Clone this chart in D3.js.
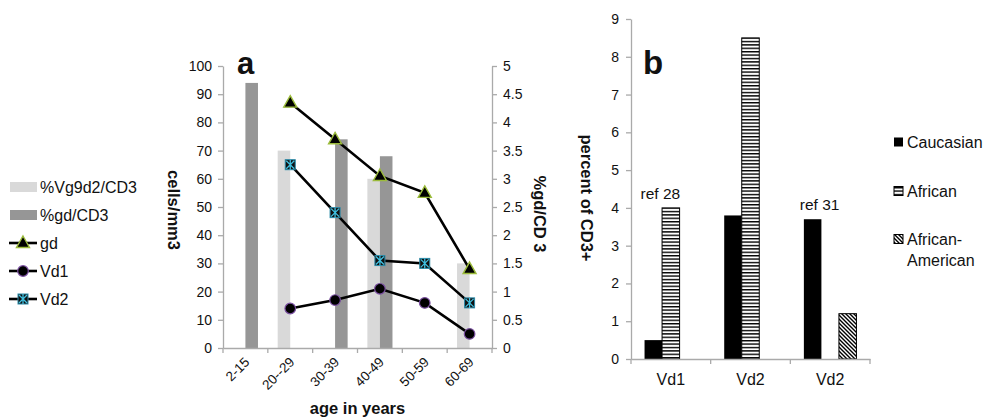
<!DOCTYPE html>
<html><head><meta charset="utf-8">
<script src="https://cdn.jsdelivr.net/npm/d3@7"></script>
<style>
html,body{margin:0;padding:0;background:#fff;}
svg text{font-family:"Liberation Sans",Arial,Helvetica,sans-serif;fill:#111;}
</style></head>
<body>
<script>
// ---- Panel a data ----
const ageGroups = ["2-15","20--29","30-39","40-49","50-59","60-69"];
const pctVg9d2CD3 = [null, 3.5, null, 3.0, null, 1.5];
const pctGdCD3 = [4.7, null, 3.7, 3.4, null, null];
const gdCells = [null, 87, 74, 61, 55, 28];
const vd1Cells = [null, 14, 17, 21, 16, 5];
const vd2Cells = [null, 65, 48, 31, 30, 16];
const leftTicksA = [0,10,20,30,40,50,60,70,80,90,100];
const rightTicksA = [0,0.5,1,1.5,2,2.5,3,3.5,4,4.5,5];

// ---- Panel b data ----
const subsets = ["Vd1","Vd2","Vd2"];
const caucasian = [0.5, 3.8, 3.7];
const african = [4.0, 8.5, null];
const africanAmerican = [null, null, 1.2];
const refLabels = ["ref 28", null, "ref 31"];
const ticksB = [0,1,2,3,4,5,6,7,8,9];

const W = 985, H = 418;
const svg = d3.select("body").append("svg").attr("width", W).attr("height", H);
const axisColor = "#aaa";
const fmt = d => String(d);

// patterns
const defs = svg.append("defs");
const ph = defs.append("pattern").attr("id","hstripe").attr("patternUnits","userSpaceOnUse")
  .attr("width",4).attr("height",3.4);
ph.append("rect").attr("width",4).attr("height",3.4).attr("fill","#fff");
ph.append("rect").attr("y",0).attr("width",4).attr("height",1.4).attr("fill","#000");
const pd = defs.append("pattern").attr("id","dstripe").attr("patternUnits","userSpaceOnUse")
  .attr("width",4).attr("height",4);
pd.append("rect").attr("width",4).attr("height",4).attr("fill","#fff");
pd.append("path").attr("d","M0,0L4,4M-1,3L1,5M3,-1L5,1").attr("stroke","#000").attr("stroke-width",1.4);

// ================= Panel a =================
const ax0 = 223, ax1 = 492, ay0 = 348, ay1 = 66;
const xA = d3.scaleBand().domain(ageGroups).range([ax0, ax1]).paddingInner(0).paddingOuter(0);
const yL = d3.scaleLinear().domain([0,100]).range([ay0, ay1]);
const yR = d3.scaleLinear().domain([0,5]).range([ay0, ay1]);
const bw = xA.bandwidth() * 0.28;
const cx = d => xA(d) + xA.bandwidth()/2;

function styleAxis(g){
  g.select(".domain").attr("stroke", axisColor).attr("stroke-width",1.3);
  g.selectAll(".tick line").attr("stroke", axisColor).attr("stroke-width",1.3);
  g.selectAll(".tick text").attr("fill","#222");
}

// bars
const gBars = svg.append("g");
ageGroups.forEach((a,i)=>{
  if (pctVg9d2CD3[i] != null)
    gBars.append("rect").attr("x", cx(a)-bw).attr("width", bw)
      .attr("y", yR(pctVg9d2CD3[i])).attr("height", yR(0)-yR(pctVg9d2CD3[i])).attr("fill","#d9d9d9");
  if (pctGdCD3[i] != null)
    gBars.append("rect").attr("x", cx(a)).attr("width", bw)
      .attr("y", yR(pctGdCD3[i])).attr("height", yR(0)-yR(pctGdCD3[i])).attr("fill","#969696");
});

// axes
const gL = svg.append("g").attr("transform",`translate(${ax0},0)`)
  .call(d3.axisLeft(yL).tickValues(leftTicksA).tickFormat(fmt).tickSize(5).tickSizeOuter(0).tickPadding(6));
styleAxis(gL); gL.selectAll(".tick text").attr("font-size",14);
const gR = svg.append("g").attr("transform",`translate(${ax1},0)`)
  .call(d3.axisRight(yR).tickValues(rightTicksA).tickFormat(fmt).tickSize(5).tickSizeOuter(0).tickPadding(6));
styleAxis(gR); gR.selectAll(".tick text").attr("font-size",14);
const gX = svg.append("g").attr("transform",`translate(0,${ay0})`)
  .call(d3.axisBottom(xA).tickSize(0).tickSizeOuter(0));
styleAxis(gX);
gX.selectAll(".tick text").remove();
const bounds = ageGroups.map(a=>xA(a)).concat([ax1]);
gX.selectAll(".btick").data(bounds).enter().append("line")
  .attr("x1",d=>d).attr("x2",d=>d).attr("y1",0).attr("y2",5).attr("stroke",axisColor).attr("stroke-width",1.3);
gX.selectAll(".xl").data(ageGroups).enter().append("text")
  .attr("transform", d=>`translate(${cx(d)+5},${15}) rotate(-45)`)
  .attr("text-anchor","end").attr("font-size",13.5).attr("fill","#222").text(d=>d);

// lines
const lineGen = d3.line().defined(d=>d.v!=null).x(d=>cx(d.a)).y(d=>yL(d.v));
const series = [
  {name:"gd", vals: gdCells, marker:"tri"},
  {name:"Vd1", vals: vd1Cells, marker:"circ"},
  {name:"Vd2", vals: vd2Cells, marker:"star"}
];
function drawMarker(g, type, x, y){
  if (type==="tri"){
    g.append("path").attr("d",`M${x},${y-7}L${x+6.5},${y+4.5}L${x-6.5},${y+4.5}Z`)
      .attr("fill","#000").attr("stroke","#9bbb3b").attr("stroke-width",1.4);
  } else if (type==="circ"){
    g.append("circle").attr("cx",x).attr("cy",y).attr("r",5.3)
      .attr("fill","#000").attr("stroke","#7a4fa0").attr("stroke-width",1.2);
  } else {
    const s=5;
    g.append("rect").attr("x",x-s).attr("y",y-s).attr("width",2*s).attr("height",2*s)
      .attr("fill","#111").attr("stroke","#2a8aa8").attr("stroke-width",1);
    g.append("path").attr("d",`M${x-s+1},${y-s+1}L${x+s-1},${y+s-1}M${x+s-1},${y-s+1}L${x-s+1},${y+s-1}M${x},${y-s}L${x},${y+s}`)
      .attr("stroke","#3fc0e0").attr("stroke-width",1.3);
  }
}
const gLines = svg.append("g");
series.forEach(s=>{
  const pts = ageGroups.map((a,i)=>({a, v:s.vals[i]}));
  gLines.append("path").datum(pts).attr("d", lineGen).attr("fill","none")
    .attr("stroke","#000").attr("stroke-width",2.6);
});
series.forEach(s=>{
  ageGroups.forEach((a,i)=>{ if (s.vals[i]!=null) drawMarker(gLines, s.marker, cx(a), yL(s.vals[i])); });
});

// titles
svg.append("text").attr("x",237).attr("y",74).attr("font-size",31).attr("font-weight","bold").text("a");
svg.append("text").attr("transform",`translate(168,210) rotate(90)`).attr("text-anchor","middle")
  .attr("font-size",16.5).attr("font-weight","bold").text("cells/mm3");
svg.append("text").attr("transform",`translate(534,214) rotate(90)`).attr("text-anchor","middle")
  .attr("font-size",16.5).attr("font-weight","bold").text("%gd/CD 3");
svg.append("text").attr("x",(ax0+ax1)/2).attr("y",414).attr("text-anchor","middle")
  .attr("font-size",16.5).attr("font-weight","bold").text("age in years");

// legend a
const legA = [
  {label:"%Vg9d2/CD3", kind:"bar", color:"#d9d9d9"},
  {label:"%gd/CD3", kind:"bar", color:"#969696"},
  {label:"gd", kind:"line", marker:"tri"},
  {label:"Vd1", kind:"line", marker:"circ"},
  {label:"Vd2", kind:"line", marker:"star"}
];
const gLegA = svg.append("g");
legA.forEach((d,i)=>{
  const y = 187 + i*28;
  if (d.kind==="bar"){
    gLegA.append("rect").attr("x",10).attr("y",y-5).attr("width",27).attr("height",10).attr("fill",d.color);
  } else {
    gLegA.append("line").attr("x1",9).attr("x2",37).attr("y1",y).attr("y2",y).attr("stroke","#000").attr("stroke-width",2.6);
    drawMarker(gLegA, d.marker, 23, y);
  }
  gLegA.append("text").attr("x",40).attr("y",y+6).attr("font-size",16).text(d.label);
});

// ================= Panel b =================
const bx0 = 631, bx1 = 870, by0 = 359, by1 = 19;
const xB = d3.scaleBand().domain(d3.range(subsets.length)).range([bx0,bx1]).paddingInner(0).paddingOuter(0);
const yB = d3.scaleLinear().domain([0,9]).range([by0,by1]);
const groupW = xB.bandwidth()*0.66;
const xS = d3.scaleBand().domain([0,1,2]).range([0, groupW]);
const bSeries = [
  {name:"Caucasian", vals:caucasian, fill:"#000"},
  {name:"African", vals:african, fill:"url(#hstripe)"},
  {name:"African-American", vals:africanAmerican, fill:"url(#dstripe)"}
];
const gB = svg.append("g");
subsets.forEach((s,i)=>{
  const gx = xB(i) + (xB.bandwidth()-groupW)/2;
  bSeries.forEach((ser,k)=>{
    const v = ser.vals[i];
    if (v==null) return;
    gB.append("rect").attr("x", gx + xS(k)).attr("width", xS.bandwidth())
      .attr("y", yB(v)).attr("height", yB(0)-yB(v))
      .attr("fill", ser.fill).attr("stroke", k===0 ? "none" : "#000").attr("stroke-width",1);
  });
  if (refLabels[i]){
    const top = d3.max(bSeries.map(ser=>ser.vals[i]).filter(v=>v!=null));
    gB.append("text").attr("x", gx + xS.bandwidth()*0.9).attr("y", yB(top)-9)
      .attr("text-anchor","middle").attr("font-size",15.5).text(refLabels[i]);
  }
});
const gBL = svg.append("g").attr("transform",`translate(${bx0},0)`)
  .call(d3.axisLeft(yB).tickValues(ticksB).tickFormat(fmt).tickSize(5).tickSizeOuter(0).tickPadding(7));
styleAxis(gBL); gBL.selectAll(".tick text").attr("font-size",14);
const gBX = svg.append("g").attr("transform",`translate(0,${by0})`)
  .call(d3.axisBottom(xB).tickSize(0).tickSizeOuter(0));
styleAxis(gBX);
gBX.selectAll(".tick text").remove();
const bBounds = d3.range(subsets.length).map(i=>xB(i)).concat([bx1]);
gBX.selectAll(".bt").data(bBounds).enter().append("line")
  .attr("x1",d=>d).attr("x2",d=>d).attr("y1",0).attr("y2",5).attr("stroke",axisColor).attr("stroke-width",1.3);
gBX.selectAll(".bl").data(subsets).enter().append("text")
  .attr("x",(d,i)=>xB(i)+xB.bandwidth()/2).attr("y",26).attr("text-anchor","middle")
  .attr("font-size",16).text(d=>d);

svg.append("text").attr("x",643).attr("y",74).attr("font-size",33).attr("font-weight","bold").text("b");
svg.append("text").attr("transform",`translate(581,198) rotate(90)`).attr("text-anchor","middle")
  .attr("font-size",16.5).attr("font-weight","bold").text("percent of CD3+");

// legend b
const legB = [
  {lines:["Caucasian"], fill:"#000", y:142},
  {lines:["African"], fill:"url(#hstripe)", y:191},
  {lines:["African-","American"], fill:"url(#dstripe)", y:239}
];
const gLegB = svg.append("g");
legB.forEach(d=>{
  gLegB.append("rect").attr("x",894).attr("y",d.y-4.5).attr("width",9).attr("height",9)
    .attr("fill",d.fill).attr("stroke",d.fill==="#000"?"none":"#000").attr("stroke-width",1);
  d.lines.forEach((t,j)=>{
    gLegB.append("text").attr("x",907).attr("y",d.y+6+j*21).attr("font-size",16).text(t);
  });
});
</script>
</body></html>
